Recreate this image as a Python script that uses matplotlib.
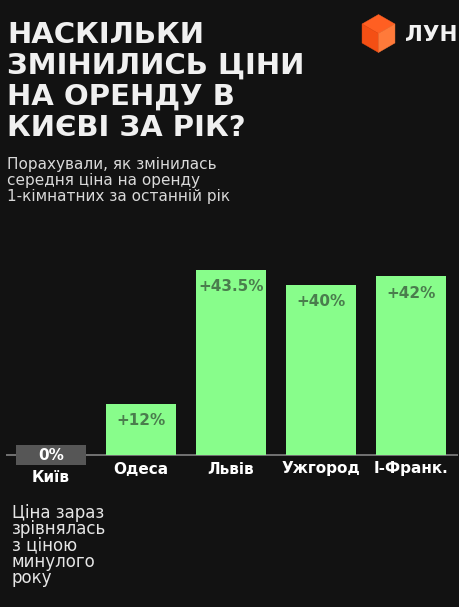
import matplotlib
matplotlib.use("Agg")
import matplotlib.pyplot as plt
from matplotlib.patches import Polygon

# ---- data ----
cities = ["Київ", "Одеса", "Львів", "Ужгород", "І-Франк."]
change_pct = [0, 12, 43.5, 40, 42]
value_labels = ["0%", "+12%", "+43.5%", "+40%", "+42%"]
title_lines = ["НАСКІЛЬКИ", "ЗМІНИЛИСЬ ЦІНИ", "НА ОРЕНДУ В", "КИЄВІ ЗА РІК?"]
subtitle_lines = ["Порахували, як змінилась", "середня ціна на оренду",
                  "1-кімнатних за останній рік"]
note_lines = ["Ціна зараз", "зрівнялась", "з ціною", "минулого", "року"]
brand = "ЛУН"

# ---- style ----
BG = "#121212"
GREEN = "#88fd8b"
LABEL_GREEN = "#4a7d4d"
ZERO_GREY = "#565656"
AXIS_GREY = "#7a7a7a"
W, H = 460, 607
DPI = 100
PX_PER_PCT = 4.26
BASE_Y = 455  # baseline, px from top

plt.rcParams['font.family'] = ['DejaVu Sans']

fig = plt.figure(figsize=(W / DPI, H / DPI), dpi=DPI, facecolor=BG)

# axes: x from px 6 to 458, categories at 90 px spacing, first at px 51
x_left_px, x_right_px = 6, 458
xlim = ((x_left_px - 51) / 90, (x_right_px - 51) / 90)
ylo, yhi = -12, 50
ax_bottom_px = BASE_Y - ylo * PX_PER_PCT
ax_top_px = BASE_Y - yhi * PX_PER_PCT
ax = fig.add_axes([x_left_px / W, (H - ax_bottom_px) / H,
                   (x_right_px - x_left_px) / W, (ax_bottom_px - ax_top_px) / H])
ax.set_xlim(*xlim)
ax.set_ylim(ylo, yhi)
ax.set_facecolor(BG)
ax.axis("off")

bar_w = 70 / 90
zero_half = 9.6 / PX_PER_PCT

ax.axhline(0, color=AXIS_GREY, lw=1.3, zorder=1)

for i, (c, v, lab) in enumerate(zip(cities, change_pct, value_labels)):
    if v == 0:
        ax.bar(i, 2 * zero_half, bottom=-zero_half, width=bar_w,
               color=ZERO_GREY, zorder=2)
        ax.text(i, 0, lab, ha="center", va="center", color="white",
                fontsize=11, fontweight="bold", zorder=3)
        ax.annotate(c, xy=(i, 0), xytext=(0, -23 * 0.72), textcoords="offset points",
                    ha="center", va="center", color="white", fontsize=11,
                    fontweight="bold")
    else:
        ax.bar(i, v, width=bar_w, color=GREEN, zorder=2)
        ax.annotate(lab, xy=(i, v), xytext=(0, -17 * 0.72), textcoords="offset points",
                    ha="center", va="center", color=LABEL_GREEN, fontsize=11,
                    fontweight="bold", zorder=3)
        ax.annotate(c, xy=(i, 0), xytext=(0, -14 * 0.72), textcoords="offset points",
                    ha="center", va="center", color="white", fontsize=11,
                    fontweight="bold")

# ---- title ----
def fy(px):
    return 1 - px / H

for k, line in enumerate(title_lines):
    fig.text(7 / W, fy(43 + 31 * k), line, ha="left", va="baseline",
             color="#f0f0f0", fontsize=21, fontweight="bold")

for k, line in enumerate(subtitle_lines):
    fig.text(7 / W, fy(168.5 + 16 * k), line, ha="left", va="baseline",
             color="#d9d9d9", fontsize=11)

for k, line in enumerate(note_lines):
    fig.text(12 / W, fy(518 + 16.3 * k), line, ha="left", va="baseline",
             color="#e6e6e6", fontsize=12)

# ---- logo ----
cx, cy, r = 378.5, 33.5, 19
hx = r * 0.866
def P(x, y):
    return (x / W, fy(y))
top = P(cx, cy - r); ur = P(cx + hx, cy - r / 2); lr = P(cx + hx, cy + r / 2)
bot = P(cx, cy + r); ll = P(cx - hx, cy + r / 2); ul = P(cx - hx, cy - r / 2)
ctr = P(cx, cy)
for pts, col in [([top, ur, ctr, ul], "#ff5f22"),
                 ([ul, ctr, bot, ll], "#f44f14"),
                 ([ctr, ur, lr, bot], "#ff7a3a")]:
    fig.add_artist(Polygon(pts, closed=True, transform=fig.transFigure,
                           facecolor=col, edgecolor=col, lw=0.3))
fig.text(405 / W, fy(35), brand, ha="left", va="center", color="#f2f2f2",
         fontsize=15.5, fontweight="bold")

fig.savefig("out.png", dpi=DPI, facecolor=BG)
